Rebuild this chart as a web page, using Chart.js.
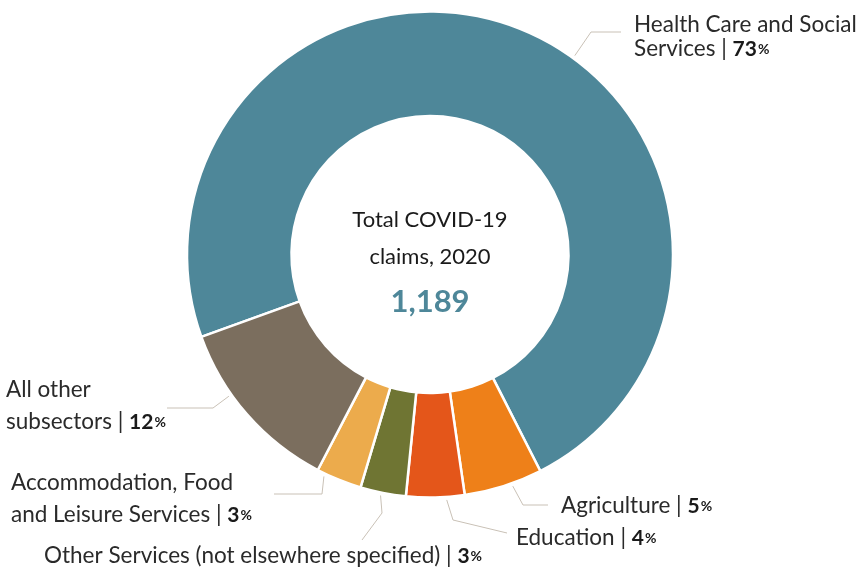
<!DOCTYPE html>
<html>
<head>
<meta charset="utf-8">
<script src="https://cdn.jsdelivr.net/npm/chart.js@4.4.1/dist/chart.umd.min.js"></script>
<style>
  html, body { margin: 0; padding: 0; background: #fff; }
  #wrap { width: 859px; height: 569px; }
</style>
</head>
<body>
<div id="wrap"><canvas id="claimsChart"></canvas></div>
<script>
// subsectors, clockwise from the big one
const sectors = [
  'Health Care and Social Services',
  'Agriculture',
  'Education',
  'Other Services (not elsewhere specified)',
  'Accommodation, Food and Leisure Services',
  'All other subsectors'
];
const claims = [868, 62, 46, 36, 36, 141]; // total 1,189
const colors = ['#4e8799', '#ee8019', '#e4561a', '#6f7533', '#ecab4c', '#7b6e5e'];
const totalLabel = ['Total COVID-19', 'claims, 2020'];

const FONT = 'Lato';
const total = claims.reduce((a, b) => a + b, 0);

// where the callout text sits, and where its leader line bends
const callouts = [
  { lines: ['Health Care and Social', 'Services'], x: 634, y: 32, lh: 24, t: 0.555, path: [[591, 32], [621, 32]] },
  { lines: ['Agriculture'], x: 561, y: 513, lh: 30, t: 0.39, path: [[523, 505], [548, 505]] },
  { lines: ['Education'], x: 516, y: 545, lh: 30, t: 0.31, path: [[453, 520], [507, 533]] },
  { lines: ['Other Services (not elsewhere specified)'], x: 44, y: 563, lh: 30, t: 0.54, path: [[382, 513], [362, 540]] },
  { lines: ['Accommodation, Food', 'and Leisure Services'], x: 11, y: 490, lh: 31.5, t: 0.82, path: [[322, 494], [274, 494]] },
  { lines: ['All other', 'subsectors'], x: 6, y: 397, lh: 32, t: 0.64, path: [[213, 408], [167, 408]] }
];

const calloutPlugin = {
  id: 'callouts',
  afterDraw(chart) {
    const ctx = chart.ctx;
    const arcs = chart.getDatasetMeta(0).data;
    ctx.save();
    callouts.forEach((c, i) => {
      const arc = arcs[i];
      const a = arc.startAngle + c.t * (arc.endAngle - arc.startAngle);
      const r = arc.outerRadius + 3;
      ctx.strokeStyle = '#c9c1b6';
      ctx.lineWidth = 1;
      ctx.beginPath();
      ctx.moveTo(arc.x + Math.cos(a) * r, arc.y + Math.sin(a) * r);
      c.path.forEach(p => ctx.lineTo(p[0], p[1]));
      ctx.stroke();

      ctx.textBaseline = 'alphabetic';
      ctx.textAlign = 'left';
      c.lines.forEach((ln, j) => {
        const y = c.y + j * c.lh;
        ctx.font = '22.5px ' + FONT;
        ctx.fillStyle = '#2a2a2a';
        ctx.fillText(ln, c.x, y);
        if (j === c.lines.length - 1) {
          let x = c.x + ctx.measureText(ln).width;
          ctx.fillText(' | ', x, y);
          x += ctx.measureText(' | ').width;
          const pct = Math.round(claims[i] / total * 100);
          ctx.font = 'bold 21px ' + FONT;
          ctx.fillStyle = '#1a1a1a';
          ctx.fillText(pct, x, y);
          x += ctx.measureText(String(pct)).width + 1;
          ctx.font = 'bold 14px ' + FONT;
          ctx.fillText('%', x, y - 2);
        }
      });
    });

    // centre text
    const cx = arcs[0].x;
    ctx.textAlign = 'center';
    ctx.fillStyle = '#1a1a1a';
    ctx.font = '22px ' + FONT;
    ctx.fillText(totalLabel[0], cx, 227);
    ctx.fillText(totalLabel[1], cx, 264);
    ctx.fillStyle = '#4e8799';
    ctx.font = 'bold 31px ' + FONT;
    ctx.fillText(total.toLocaleString('en-US'), cx, 312);
    ctx.restore();
  }
};

const ctxClaims = document.getElementById('claimsChart').getContext('2d');

new Chart(ctxClaims, {
  type: 'doughnut',
  data: {
    labels: sectors,
    datasets: [{
      data: claims,
      backgroundColor: colors,
      borderColor: '#ffffff',
      borderWidth: 2.5,
      hoverOffset: 0
    }]
  },
  options: {
    responsive: true,
    maintainAspectRatio: false,
    animation: false,
    rotation: 250.2,
    cutout: '57%',
    radius: 243,
    layout: {
      padding: { left: 1, right: 0, top: 0, bottom: 60 }
    },
    plugins: {
      legend: { display: false },
      tooltip: { enabled: false }
    }
  },
  plugins: [calloutPlugin]
});
</script>
</body>
</html>
